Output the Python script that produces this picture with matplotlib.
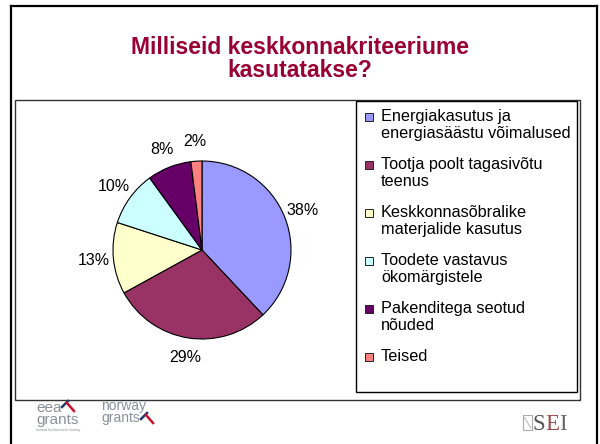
import matplotlib
matplotlib.use("Agg")
import matplotlib.pyplot as plt
from matplotlib.patches import Rectangle
from matplotlib.lines import Line2D

plt.rcParams['font.family'] = ['Liberation Sans', 'DejaVu Sans']

# data
title = "Milliseid keskkonnakriteeriume\nkasutatakse?"
labels = ["Energiakasutus ja\nenergiasäästu võimalused",
          "Tootja poolt tagasivõtu\nteenus",
          "Keskkonnasõbralike\nmaterjalide kasutus",
          "Toodete vastavus\nökomärgistele",
          "Pakenditega seotud\nnõuded",
          "Teised"]
shares = [38, 29, 13, 10, 8, 2]
colors = ["#9999FF", "#993366", "#FFFFCC", "#CCFFFF", "#660066", "#FF8080"]

W, H = 600, 444
fig = plt.figure(figsize=(6, 4.44), dpi=100)


def fx(px):
    return px / W


def fy(py):
    return 1 - py / H


# slide frame (no bottom edge)
for xs, ys in [((11, 11), (6, 444)), ((11, 597), (6, 6)), ((597, 597), (6, 444))]:
    fig.add_artist(Line2D([fx(x) for x in xs], [fy(y) for y in ys],
                          color="black", lw=1.6, transform=fig.transFigure))

# va=baseline on two lines puts the last line on y
fig.text(0.5, fy(77), title, ha="center", va="baseline", fontsize=16.5,
         fontweight="bold", color="#990033", linespacing=1.0)

# chart area and legend box
fig.add_artist(Rectangle((fx(15), fy(400)), fx(580) - fx(15), fy(100) - fy(400),
                         transform=fig.transFigure, fill=False, ec="#333333", lw=1.0))
fig.add_artist(Rectangle((fx(356), fy(392)), fx(577) - fx(356), fy(101) - fy(392),
                         transform=fig.transFigure, fill=False, ec="black", lw=1.0))

# pie
cx, cy, r = 202, 250, 89
ax = fig.add_axes([fx(cx - r), fy(cy + r), 2 * r / W, 2 * r / H])
wedges, texts, autotexts = ax.pie(shares, colors=colors, startangle=90, counterclock=False,
                                  autopct="%1.0f%%", pctdistance=1.22,
                                  wedgeprops=dict(edgecolor="black", linewidth=0.8),
                                  textprops=dict(fontsize=11.5, color="black"))
ax.set_xlim(-1, 1)
ax.set_ylim(-1, 1)
ax.set_aspect("equal")

# legend, squares sit on the first line of each label
for i, (lab, col) in enumerate(zip(labels, colors)):
    top = 112 + i * 48
    fig.add_artist(Rectangle((fx(365), fy(top + 9)), 8 / W, 8 / H,
                             transform=fig.transFigure, fc=col, ec="#222222", lw=0.7))
    fig.text(fx(381), fy(top - 3), lab, ha="left", va="top", fontsize=11.7,
             linespacing=1.2)

# logos at the bottom
grey = "#8a9099"
fig.text(fx(36), fy(424), "eea\ngrants", fontsize=11, color=grey, va="baseline",
         linespacing=0.8)
fig.text(fx(101), fy(422), "norway\ngrants", fontsize=10, color=grey, va="baseline",
         linespacing=0.85)
fig.text(fx(36), fy(431), "iceland liechtenstein norway", fontsize=2.5, color=grey, va="baseline")
for x0, y0 in [(62, 401), (141, 413)]:
    fig.add_artist(Line2D([fx(x0), fx(x0 + 6)], [fy(y0 + 6), fy(y0)], color="#1f3a6e",
                          lw=1.8, transform=fig.transFigure))
    fig.add_artist(Line2D([fx(x0 + 5), fx(x0 + 12)], [fy(y0 + 2), fy(y0 + 10)], color="#c8102e",
                          lw=1.8, transform=fig.transFigure))

fig.add_artist(Rectangle((fx(523), fy(430)), 9 / W, 15 / H, transform=fig.transFigure,
                         fill=False, ec="#aaaaaa", lw=0.8))
fig.add_artist(Line2D([fx(524), fx(531)], [fy(417), fy(428)], color="#aaaaaa", lw=0.6,
                      transform=fig.transFigure))
fig.text(fx(532), fy(430), "S", family="Liberation Serif", fontsize=16.5, color="#555555", va="baseline")
fig.text(fx(545), fy(430), "E", family="Liberation Serif", fontsize=16.5, color="#a04848", va="baseline")
fig.text(fx(559), fy(430), "I", family="Liberation Serif", fontsize=16.5, color="#666666", va="baseline")

fig.savefig("out.png", dpi=100)
